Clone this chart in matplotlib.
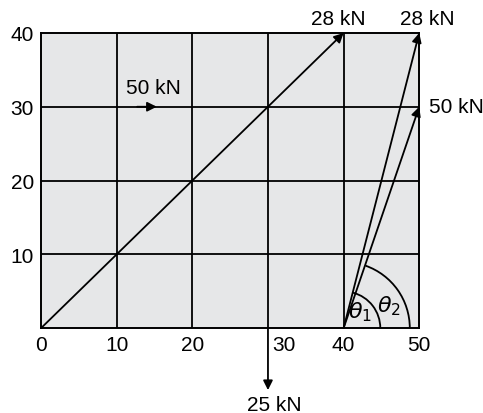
import matplotlib.pyplot as plt
from matplotlib.patches import Arc
import matplotlib.transforms as mtransforms

plt.rcParams['font.family'] = ['Liberation Sans', 'DejaVu Sans']

# grid values
ticks = [0, 10, 20, 30, 40, 50]
yticks = [10, 20, 30, 40]

# force vectors: (start, end, label, label position, alignment)
forces = [
    ((0, 0), (40, 40), "28 kN", (39.3, 42.0), "center"),
    ((40, 0), (50, 40), "28 kN", (51.1, 42.0), "center"),
    ((40, 0), (50, 30), "50 kN", (51.3, 30.0), "left"),
    ((12.7, 30), (15.3, 30), "50 kN", (14.8, 32.6), "center"),
    ((30, 0), (30, -8.4), "25 kN", (30.9, -10.3), "center"),
]

# angle arcs about (40, 0): radius in x units, end angle (deg)
arcs = [(4.85, 75.5, r"$\theta_1$", (42.2, 2.3)),
        (8.75, 71.0, r"$\theta_2$", (46.0, 3.1))]

fig = plt.figure(figsize=(4.83, 4.14), dpi=100)
ax = fig.add_axes([0.085, 0.205, 0.783, 0.713])
ax.set_xlim(0, 50)
ax.set_ylim(0, 40)
ax.set_facecolor('#e6e7e8')

for v in ticks[1:-1]:
    ax.axvline(v, color='black', lw=1.3)
for v in yticks[:-1]:
    ax.axhline(v, color='black', lw=1.3)
for s in ax.spines.values():
    s.set_linewidth(1.4)

ax.set_xticks(ticks)
ax.set_xticklabels([str(t) for t in ticks])
ax.set_yticks(yticks)
ax.set_yticklabels([str(t) for t in yticks])
ax.tick_params(length=0, labelsize=15, pad=5)
# shift the "30" label right of the downward arrow
lab30 = ax.get_xticklabels()[3]
lab30.set_transform(lab30.get_transform() +
                    mtransforms.ScaledTranslation(16 / 100, 0, fig.dpi_scale_trans))

for (x0, y0), (x1, y1), label, (lx, ly), ha in forces:
    ax.annotate("", xy=(x1, y1), xytext=(x0, y0),
                arrowprops=dict(arrowstyle='-|>', color='black', lw=1.3,
                                mutation_scale=14, shrinkA=0, shrinkB=0),
                annotation_clip=False)
    ax.text(lx, ly, label, ha=ha, va='center', fontsize=15, clip_on=False)

# aspect ratio of axes units (pixels per unit y / per unit x)
ratio = (0.713 * 414 / 40) / (0.783 * 483 / 50)
for r, ang, lab, (tx, ty) in arcs:
    ax.add_patch(Arc((40, 0), 2 * r, 2 * r / ratio, theta1=0, theta2=ang,
                     color='black', lw=1.3))
    ax.text(tx, ty, lab, fontsize=16, ha='center', va='center')

fig.savefig('out.png', dpi=100)
